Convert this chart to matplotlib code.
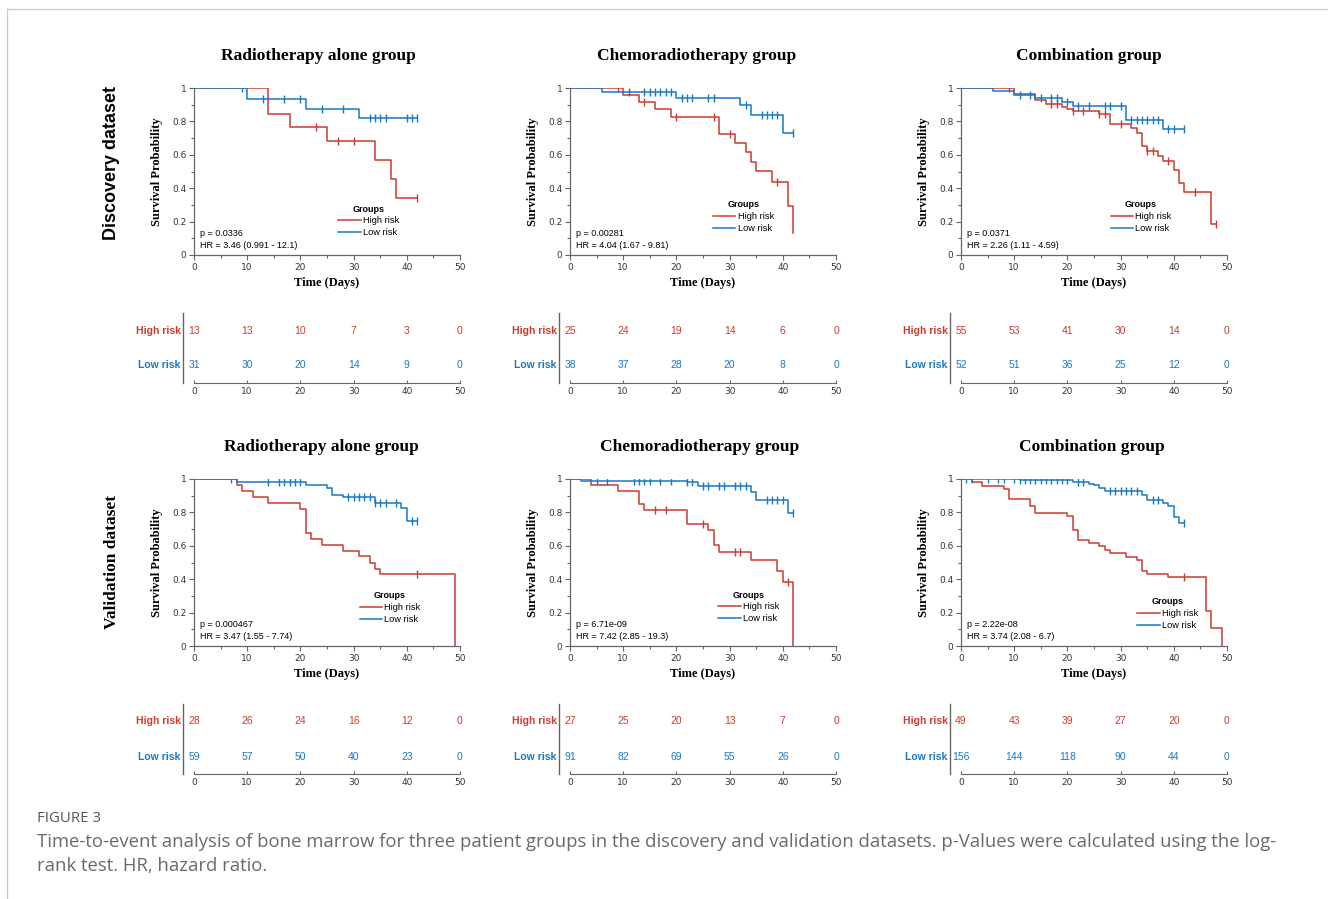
import matplotlib

matplotlib.use("Agg")
import matplotlib.pyplot as plt
import numpy as np
from matplotlib.lines import Line2D
from matplotlib.ticker import FuncFormatter, MultipleLocator

W, H = 1328, 899
RED = "#CC3B30"
BLUE = "#1878C8"
SERIF = "Liberation Serif"
SANS = "Liberation Sans"

# ---- data (event times / survival after each event / censor times)
# Discovery, radiotherapy alone
RT_D_HIGH_T = [14, 18, 25, 34, 37, 38]
RT_D_HIGH_S = [0.846, 0.769, 0.684, 0.570, 0.456, 0.342]
RT_D_HIGH_C = [23, 27, 30, 42]
RT_D_LOW_T = [10, 21, 31]
RT_D_LOW_S = [0.933, 0.875, 0.820]
RT_D_LOW_C = [9, 13, 17, 20, 24, 28, 33, 34, 35, 36, 40, 41, 42]

# Discovery, chemoradiotherapy
CRT_D_HIGH_T = [10, 13, 16, 19, 28, 31, 33, 34, 35, 38, 41, 42]
CRT_D_HIGH_S = [0.960, 0.918, 0.876, 0.829, 0.725, 0.671, 0.616, 0.558, 0.504, 0.438, 0.293, 0.13]
CRT_D_HIGH_C = [9, 14, 20, 27, 30, 39]
CRT_D_LOW_T = [6, 20, 32, 34, 40]
CRT_D_LOW_S = [0.974, 0.940, 0.896, 0.837, 0.731]
CRT_D_LOW_C = [11, 14, 15, 16, 17, 18, 19, 21, 22, 23, 26, 27, 33, 36, 37, 38, 39, 42]

# Discovery, combination
COMB_D_HIGH_T = [10, 14, 16, 19, 20, 21, 26, 28, 32, 33, 34, 35, 37, 38, 40, 41, 42, 47]
COMB_D_HIGH_S = [0.962, 0.928, 0.904, 0.884, 0.873, 0.862, 0.842, 0.787, 0.760, 0.731,
                 0.652, 0.620, 0.592, 0.560, 0.510, 0.430, 0.375, 0.187]
COMB_D_HIGH_C = [9, 17, 18, 21, 23, 26, 27, 30, 35, 36, 39, 44, 48]
COMB_D_LOW_T = [6, 10, 14, 19, 21, 31, 38]
COMB_D_LOW_S = [0.980, 0.961, 0.941, 0.919, 0.891, 0.811, 0.752]
COMB_D_LOW_C = [11, 13, 15, 17, 18, 20, 22, 24, 27, 28, 30, 32, 33, 34, 35, 36, 37, 39, 40, 42]

# Validation, radiotherapy alone
RT_V_HIGH_T = [8, 9, 11, 14, 20, 21, 22, 24, 28, 31, 33, 34, 35, 49]
RT_V_HIGH_S = [0.964, 0.929, 0.893, 0.857, 0.821, 0.679, 0.643, 0.607, 0.571, 0.536,
               0.500, 0.464, 0.429, 0.0]
RT_V_HIGH_C = [42]
RT_V_LOW_T = [8, 21, 25, 26, 28, 34, 39, 40]
RT_V_LOW_S = [0.984, 0.966, 0.944, 0.905, 0.893, 0.859, 0.825, 0.746]
RT_V_LOW_C = [7, 14, 16, 17, 18, 19, 20, 29, 30, 31, 32, 33, 34, 35, 36, 38, 41, 42]

# Validation, chemoradiotherapy
CRT_V_HIGH_T = [4, 9, 13, 14, 22, 26, 27, 28, 34, 39, 40, 42]
CRT_V_HIGH_S = [0.964, 0.926, 0.853, 0.817, 0.732, 0.692, 0.602, 0.563, 0.513, 0.447, 0.384, 0.0]
CRT_V_HIGH_C = [16, 18, 25, 31, 32, 41]
CRT_V_LOW_T = [2, 22, 24, 34, 35, 41]
CRT_V_LOW_S = [0.991, 0.982, 0.960, 0.920, 0.877, 0.795]
CRT_V_LOW_C = [5, 7, 12, 13, 14, 15, 17, 19, 22, 23, 25, 26, 28, 29, 31, 32, 33,
               37, 38, 39, 40, 42]

# Validation, combination
COMB_V_HIGH_T = [2, 4, 8, 9, 13, 14, 20, 21, 22, 24, 26, 27, 28, 31, 33, 34, 35, 39, 46, 47, 49]
COMB_V_HIGH_S = [0.984, 0.960, 0.942, 0.881, 0.841, 0.797, 0.779, 0.696, 0.632, 0.614, 0.596,
                 0.575, 0.555, 0.535, 0.513, 0.451, 0.433, 0.412, 0.209, 0.105, 0.0]
COMB_V_HIGH_C = [42]
COMB_V_LOW_T = [11, 21, 24, 25, 26, 27, 34, 35, 38, 39, 40, 41]
COMB_V_LOW_S = [0.995, 0.984, 0.972, 0.962, 0.945, 0.927, 0.905, 0.876, 0.856, 0.836, 0.775, 0.735]
COMB_V_LOW_C = [1, 2, 5, 7, 8, 10, 11, 12, 13, 14, 15, 16, 17, 18, 19, 20, 22, 23,
                28, 29, 30, 31, 32, 33, 36, 37, 42]

# numbers at risk at days 0, 10, ..., 50
RISK_DAYS = [0, 10, 20, 30, 40, 50]
RT_D_RISK_HIGH = [13, 13, 10, 7, 3, 0]
RT_D_RISK_LOW = [31, 30, 20, 14, 9, 0]
CRT_D_RISK_HIGH = [25, 24, 19, 14, 6, 0]
CRT_D_RISK_LOW = [38, 37, 28, 20, 8, 0]
COMB_D_RISK_HIGH = [55, 53, 41, 30, 14, 0]
COMB_D_RISK_LOW = [52, 51, 36, 25, 12, 0]
RT_V_RISK_HIGH = [28, 26, 24, 16, 12, 0]
RT_V_RISK_LOW = [59, 57, 50, 40, 23, 0]
CRT_V_RISK_HIGH = [27, 25, 20, 13, 7, 0]
CRT_V_RISK_LOW = [91, 82, 69, 55, 26, 0]
COMB_V_RISK_HIGH = [49, 43, 39, 27, 20, 0]
COMB_V_RISK_LOW = [156, 144, 118, 90, 44, 0]

TITLES = ["Radiotherapy alone group", "Chemoradiotherapy group", "Combination group"]
P_TEXT = ["p = 0.0336", "p = 0.00281", "p = 0.0371",
          "p = 0.000467", "p = 6.71e-09", "p = 2.22e-08"]
HR_TEXT = ["HR = 3.46 (0.991 - 12.1)", "HR = 4.04 (1.67 - 9.81)", "HR = 2.26 (1.11 - 4.59)",
           "HR = 3.47 (1.55 - 7.74)", "HR = 7.42 (2.85 - 19.3)", "HR = 3.74 (2.08 - 6.7)"]

PANELS = [
    (RT_D_HIGH_T, RT_D_HIGH_S, RT_D_HIGH_C, RT_D_LOW_T, RT_D_LOW_S, RT_D_LOW_C,
     RT_D_RISK_HIGH, RT_D_RISK_LOW),
    (CRT_D_HIGH_T, CRT_D_HIGH_S, CRT_D_HIGH_C, CRT_D_LOW_T, CRT_D_LOW_S, CRT_D_LOW_C,
     CRT_D_RISK_HIGH, CRT_D_RISK_LOW),
    (COMB_D_HIGH_T, COMB_D_HIGH_S, COMB_D_HIGH_C, COMB_D_LOW_T, COMB_D_LOW_S, COMB_D_LOW_C,
     COMB_D_RISK_HIGH, COMB_D_RISK_LOW),
    (RT_V_HIGH_T, RT_V_HIGH_S, RT_V_HIGH_C, RT_V_LOW_T, RT_V_LOW_S, RT_V_LOW_C,
     RT_V_RISK_HIGH, RT_V_RISK_LOW),
    (CRT_V_HIGH_T, CRT_V_HIGH_S, CRT_V_HIGH_C, CRT_V_LOW_T, CRT_V_LOW_S, CRT_V_LOW_C,
     CRT_V_RISK_HIGH, CRT_V_RISK_LOW),
    (COMB_V_HIGH_T, COMB_V_HIGH_S, COMB_V_HIGH_C, COMB_V_LOW_T, COMB_V_LOW_S, COMB_V_LOW_C,
     COMB_V_RISK_HIGH, COMB_V_RISK_LOW),
]

# ---- layout (pixels)
COL_LEFT = [194, 570, 961]
AX_W = 266
KM_TOP = [88, 479]
KM_H = 167
RISK_TOP = [313, 704]
RISK_H = 70
TITLE_X = [[318, 697, 1089], [321, 700, 1092]]
TITLE_Y = [56, 447]
LEGEND_AT = [(0.525, 0.33), (0.52, 0.355), (0.545, 0.355),
             (0.605, 0.355), (0.54, 0.36), (0.645, 0.32)]


def px_axes(fig, left, top, w, h):
    return fig.add_axes([left / W, 1 - (top + h) / H, w / W, h / H])


def km_curve(ax, t, s, cens, color, label):
    times = np.r_[0, t]
    surv = np.r_[1.0, s]
    end = max(max(t), max(cens))
    if end > times[-1]:
        times = np.r_[times, end]
        surv = np.r_[surv, surv[-1]]
    (line,) = ax.step(times, surv, where="post", color=color, lw=1.1, label=label)
    idx = np.searchsorted(times, cens, side="right") - 1
    ax.plot(cens, surv[idx], ls="none", marker="|", ms=6, mew=1.0, color=color)
    return line


fig = plt.figure(figsize=(W / 100, H / 100), dpi=100)

for i, (ht, hs, hc, lt, ls_, lc, rh, rl) in enumerate(PANELS):
    row, col = divmod(i, 3)
    ax = px_axes(fig, COL_LEFT[col], KM_TOP[row], AX_W, KM_H)
    h_line = km_curve(ax, ht, hs, hc, RED, "High risk")
    l_line = km_curve(ax, lt, ls_, lc, BLUE, "Low risk")
    ax.set_xlim(0, 50)
    ax.set_ylim(0, 1)
    ax.xaxis.set_major_locator(MultipleLocator(10))
    ax.xaxis.set_minor_locator(MultipleLocator(5))
    ax.yaxis.set_major_locator(MultipleLocator(0.2))
    ax.yaxis.set_minor_locator(MultipleLocator(0.1))
    ax.yaxis.set_major_formatter(FuncFormatter(lambda v, _: f"{v:g}"))
    for side in ("top", "right"):
        ax.spines[side].set_visible(False)
    for side in ("left", "bottom"):
        ax.spines[side].set_color("#666666")
        ax.spines[side].set_linewidth(0.9)
    ax.tick_params(which="both", direction="out", color="#666666", width=0.8,
                   labelsize=6.5, labelcolor="#333333", pad=2)
    ax.tick_params(which="major", length=3.5)
    ax.tick_params(which="minor", length=2.5)
    ax.set_xlabel("Time (Days)", family=SERIF, weight="bold", fontsize=9, labelpad=4)
    ax.set_ylabel("Survival Probability", family=SERIF, weight="bold", fontsize=9)
    ax.yaxis.set_label_coords(-0.115, 0.5)
    ax.text(0.022, 0.13, P_TEXT[i], transform=ax.transAxes, fontsize=6.5,
            family=SANS, va="center")
    ax.text(0.022, 0.057, HR_TEXT[i], transform=ax.transAxes, fontsize=6.5,
            family=SANS, va="center")
    ax.legend([h_line, l_line], ["High risk", "Low risk"], title="Groups",
              title_fontproperties={"weight": "bold", "size": 6.5, "family": SANS},
              prop={"size": 6.7, "family": SANS}, frameon=False,
              loc="upper left", bbox_to_anchor=LEGEND_AT[i], borderpad=0,
              handlelength=2.4, handletextpad=0.25, labelspacing=0.3)

    fig.text(TITLE_X[row][col] / W, 1 - TITLE_Y[row] / H, TITLES[col], family=SERIF,
             weight="bold", fontsize=12.5, ha="center", va="center")

    # numbers-at-risk table
    rax = px_axes(fig, COL_LEFT[col], RISK_TOP[row], AX_W, RISK_H)
    rax.set_xlim(0, 50)
    rax.set_ylim(0, 2)
    for d, n in zip(RISK_DAYS, rh):
        rax.text(d, 1.5, str(n), color=RED, fontsize=7.5, family=SANS,
                 ha="center", va="center")
    for d, n in zip(RISK_DAYS, rl):
        rax.text(d, 0.5, str(n), color=BLUE, fontsize=7.5, family=SANS,
                 ha="center", va="center")
    rax.text(-0.05, 0.75, "High risk", transform=rax.transAxes, color=RED,
             fontsize=7.5, family=SANS, weight="bold", ha="right", va="center")
    rax.text(-0.05, 0.25, "Low risk", transform=rax.transAxes, color=BLUE,
             fontsize=7.5, family=SANS, weight="bold", ha="right", va="center")
    rax.add_line(Line2D([-0.041, -0.041], [0.0, 1.0], transform=rax.transAxes,
                        color="#666666", lw=1.0, clip_on=False))
    for side in ("top", "right", "left"):
        rax.spines[side].set_visible(False)
    rax.spines["bottom"].set_color("#666666")
    rax.set_yticks([])
    rax.set_xticks(RISK_DAYS)
    rax.tick_params(axis="x", direction="in", length=2.5, color="#666666",
                    labelsize=6.5, labelcolor="#333333", pad=3)

# row labels
fig.text(112 / W, 1 - 163 / H, "Discovery dataset", rotation=90, family=SANS,
         weight="bold", fontsize=13, ha="center", va="center")
fig.text(112 / W, 1 - 562 / H, "Validation dataset", rotation=90, family=SERIF,
         weight="bold", fontsize=12.5, ha="center", va="center")

# caption
fig.text(37 / W, 1 - 818 / H, "FIGURE 3", family="Open Sans", fontsize=10.8,
         color="#555555", va="center")
fig.text(37 / W, 1 - 842 / H,
         "Time-to-event analysis of bone marrow for three patient groups in the discovery "
         "and validation datasets. p-Values were calculated using the log-",
         family="Open Sans", fontsize=13.3, color="#6a6a6a", va="center")
fig.text(37 / W, 1 - 866 / H, "rank test. HR, hazard ratio.", family="Open Sans",
         fontsize=13.3, color="#6a6a6a", va="center")

# page frame
fig.add_artist(Line2D([7 / W, 1], [1 - 9 / H, 1 - 9 / H], color="#cccccc", lw=1.0))
fig.add_artist(Line2D([7 / W, 7 / W], [0, 1 - 9 / H], color="#cccccc", lw=1.0))

fig.savefig("out.png", dpi=100)
